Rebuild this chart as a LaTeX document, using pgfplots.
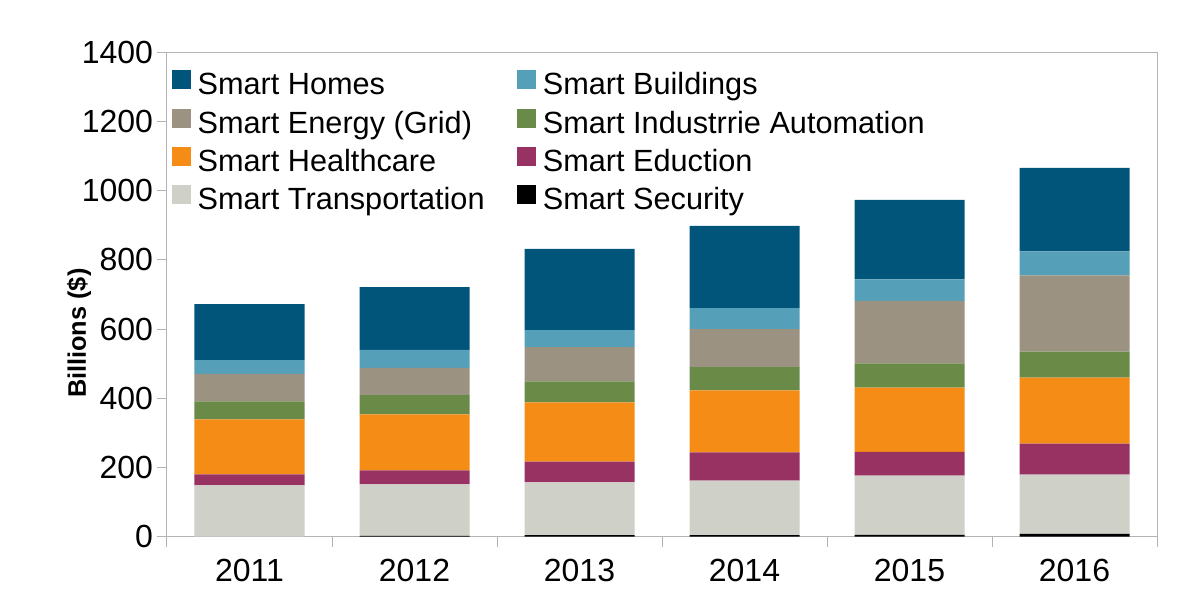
\documentclass[border=0pt]{standalone}
\usepackage{pgfplots}
\pgfplotsset{compat=1.18}
\usepackage{fontspec}
\setmainfont{Liberation Sans}
\definecolor{cHomes}{HTML}{02557A}
\definecolor{cBuild}{HTML}{559FB9}
\definecolor{cEnergy}{HTML}{9B9282}
\definecolor{cIndus}{HTML}{6A8A47}
\definecolor{cHealth}{HTML}{F48C16}
\definecolor{cEdu}{HTML}{983262}
\definecolor{cTrans}{HTML}{CFD0C7}
\definecolor{cSec}{HTML}{000000}
\definecolor{axgray}{HTML}{B3B3B3}
\begin{document}
\begin{tikzpicture}
\path (-125.25pt,-52.1pt) rectangle (774pt,402.4pt);
\begin{axis}[
  width=742.5pt, height=363pt, scale only axis,
  ybar stacked, bar width=82.5pt,
  xmin=-0.5, xmax=5.5, ymin=0, ymax=1400,
  xtick={0,1,2,3,4,5},
  xticklabels={2011,2012,2013,2014,2015,2016},
  minor xtick={-0.5,0.5,1.5,2.5,3.5,4.5,5.5},
  major x tick style={draw=none},
  ytick={0,200,400,600,800,1000,1200,1400},
  tick align=outside, tick pos=left,
  major tick length=7.5pt, minor tick length=7.5pt,
  tick style={axgray, line width=0.75pt},
  axis line style={axgray, line width=0.75pt},
  /pgf/number format/assume math mode=true,
  /pgf/number format/set thousands separator={},
  ticklabel style={font=\fontsize{24}{28}\selectfont},
  yticklabel style={inner xsep=0pt, xshift=-2.8pt},
  xticklabel style={inner ysep=0pt, anchor=north, yshift=-9.5pt},
  every axis y label/.style={at={(axis description cs:0,0.42)}, xshift=-66pt, rotate=90, anchor=center, font=\fontsize{19}{22}\selectfont\bfseries},
  ylabel={Billions (\$)},
  legend columns=2,
  legend cell align=left,
  legend style={at={(0,1)}, anchor=north west, xshift=3.75pt, yshift=-13.4pt,
    draw=none, fill=none, inner sep=0pt, outer sep=0pt,
    font=\fontsize{23}{27}\selectfont, row sep=5.2pt,
    nodes={inner xsep=5pt, inner ysep=0pt, text height=16pt, text depth=5pt},
    /tikz/every even column/.append style={column sep=19.5pt}},
  legend image code/.code={\fill[#1] (0pt,-1.3pt) rectangle (14.25pt,12.95pt);},
  every axis plot/.append style={draw=none},
]
\addplot[fill=cSec, forget plot] coordinates {(0,0) (1,2) (2,4) (3,4) (4,5) (5,8)};
\addplot[fill=cTrans, forget plot] coordinates {(0,148) (1,148.7) (2,152.5) (3,158) (4,171) (5,171)};
\addplot[fill=cEdu, forget plot] coordinates {(0,32) (1,40.6) (2,60.5) (3,81.5) (4,69) (5,90)};
\addplot[fill=cHealth, forget plot] coordinates {(0,159) (1,162.3) (2,171) (3,179.5) (4,186) (5,191)};
\addplot[fill=cIndus, forget plot] coordinates {(0,52) (1,55.1) (2,61) (3,67) (4,69.5) (5,75)};
\addplot[fill=cEnergy, forget plot] coordinates {(0,79.5) (1,79.3) (2,99) (3,110) (4,181.5) (5,220.5)};
\addplot[fill=cBuild, forget plot] coordinates {(0,39.5) (1,52) (2,49) (3,61) (4,62) (5,69.5)};
\addplot[fill=cHomes, forget plot] coordinates {(0,162.5) (1,181.7) (2,235) (3,237.6) (4,230) (5,241)};
\addlegendimage{fill=cHomes}\addlegendentry{Smart Homes}
\addlegendimage{fill=cBuild}\addlegendentry{Smart Buildings}
\addlegendimage{fill=cEnergy}\addlegendentry{Smart Energy (Grid)}
\addlegendimage{fill=cIndus}\addlegendentry{Smart Industrrie Automation}
\addlegendimage{fill=cHealth}\addlegendentry{Smart Healthcare}
\addlegendimage{fill=cEdu}\addlegendentry{Smart Eduction}
\addlegendimage{fill=cTrans}\addlegendentry{Smart Transportation}
\addlegendimage{fill=cSec}\addlegendentry{Smart Security}
\end{axis}
\end{tikzpicture}
\end{document}
